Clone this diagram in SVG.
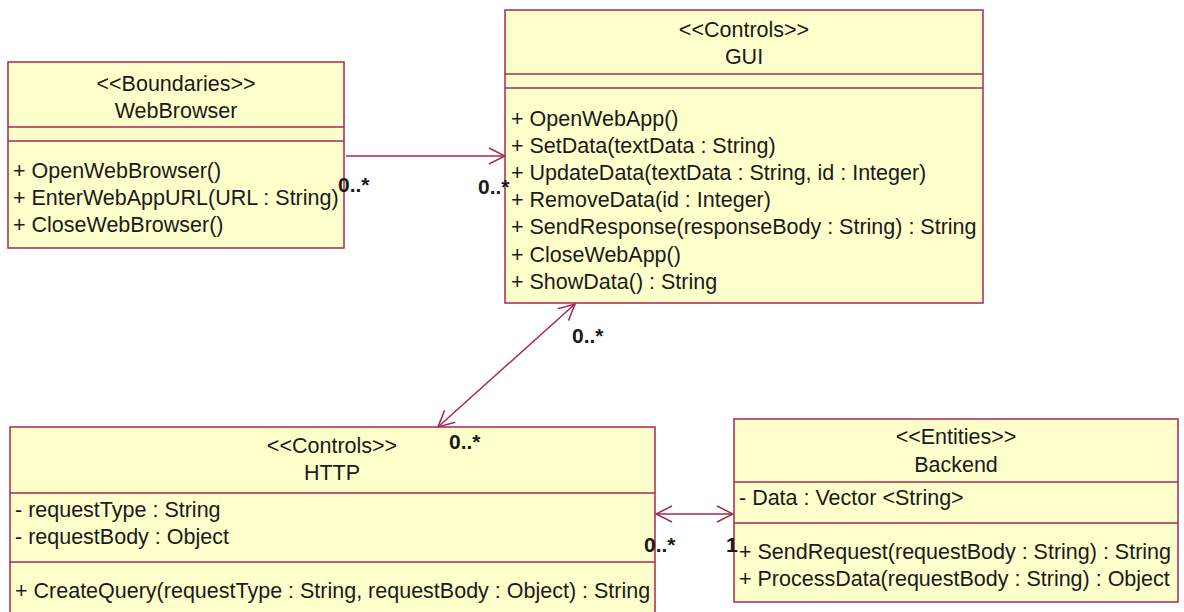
<svg xmlns="http://www.w3.org/2000/svg" width="1184" height="612" viewBox="0 0 1184 612">
  <style>
    .box { fill: #ffffcb; stroke: #a8294f; stroke-width: 1.5; }
    .div { stroke: #a8294f; stroke-width: 1.5; }
    .t { font-family: "Liberation Sans", Arial, sans-serif; font-size: 21.5px; fill: #1a1a1a; }
    .c { text-anchor: middle; }
    .edge { stroke: #a8294f; stroke-width: 1.5; fill: none; }
    .mult { font-family: "Liberation Sans", Arial, sans-serif; font-size: 21px; font-weight: bold; fill: #1a1a1a; }
  </style>
  <defs>
    <marker id="open" viewBox="0 0 18 18" refX="17" refY="9" markerWidth="18" markerHeight="18" markerUnits="userSpaceOnUse" orient="auto-start-reverse">
      <path d="M1,1 L17,9 L1,17" fill="none" stroke="#a8294f" stroke-width="1.5"/>
    </marker>
  </defs>
  <rect width="1184" height="612" fill="#ffffff"/>

  <g id="webbrowser">
    <rect class="box" x="8" y="62" width="336" height="186"/>
    <line class="div" x1="8" y1="127" x2="344" y2="127"/>
    <line class="div" x1="8" y1="141" x2="344" y2="141"/>
    <text class="t c" x="176" y="91">&lt;&lt;Boundaries&gt;&gt;</text>
    <text class="t c" x="176" y="118">WebBrowser</text>
    <text class="t" x="13" y="178">+ OpenWebBrowser()</text>
    <text class="t" x="13" y="205">+ EnterWebAppURL(URL : String)</text>
    <text class="t" x="13" y="232">+ CloseWebBrowser()</text>
  </g>

  <g id="gui">
    <rect class="box" x="505" y="10" width="478" height="293"/>
    <line class="div" x1="505" y1="74" x2="983" y2="74"/>
    <line class="div" x1="505" y1="88" x2="983" y2="88"/>
    <text class="t c" x="744" y="37">&lt;&lt;Controls&gt;&gt;</text>
    <text class="t c" x="744" y="64">GUI</text>
    <text class="t" x="511" y="126">+ OpenWebApp()</text>
    <text class="t" x="511" y="153">+ SetData(textData : String)</text>
    <text class="t" x="511" y="180">+ UpdateData(textData : String, id : Integer)</text>
    <text class="t" x="511" y="207">+ RemoveData(id : Integer)</text>
    <text class="t" x="511" y="234">+ SendResponse(responseBody : String) : String</text>
    <text class="t" x="511" y="262">+ CloseWebApp()</text>
    <text class="t" x="511" y="289">+ ShowData() : String</text>
  </g>

  <g id="http">
    <rect class="box" x="10" y="427" width="645" height="200"/>
    <line class="div" x1="10" y1="493" x2="655" y2="493"/>
    <line class="div" x1="10" y1="562" x2="655" y2="562"/>
    <text class="t c" x="332" y="453">&lt;&lt;Controls&gt;&gt;</text>
    <text class="t c" x="332" y="480">HTTP</text>
    <text class="t" x="15" y="517">- requestType : String</text>
    <text class="t" x="15" y="544">- requestBody : Object</text>
    <text class="t" x="15" y="598">+ CreateQuery(requestType : String, requestBody : Object) : String</text>
  </g>

  <g id="backend">
    <rect class="box" x="734" y="419" width="444" height="183"/>
    <line class="div" x1="734" y1="482" x2="1178" y2="482"/>
    <line class="div" x1="734" y1="523" x2="1178" y2="523"/>
    <text class="t c" x="956" y="444">&lt;&lt;Entities&gt;&gt;</text>
    <text class="t c" x="956" y="472">Backend</text>
    <text class="t" x="739" y="505">- Data : Vector &lt;String&gt;</text>
    <text class="t" x="739" y="559">+ SendRequest(requestBody : String) : String</text>
    <text class="t" x="739" y="586">+ ProcessData(requestBody : String) : Object</text>
  </g>

  <g id="connectors">
    <line class="edge" x1="346" y1="156" x2="505" y2="156" marker-end="url(#open)"/>
    <line class="edge" x1="438" y1="427" x2="575" y2="304" marker-start="url(#open)" marker-end="url(#open)"/>
    <line class="edge" x1="656" y1="514" x2="733" y2="514" marker-start="url(#open)" marker-end="url(#open)"/>
    <text class="mult" x="338" y="192">0..*</text>
    <text class="mult" x="478" y="194">0..*</text>
    <text class="mult" x="572" y="343">0..*</text>
    <text class="mult" x="449" y="449">0..*</text>
    <text class="mult" x="644" y="552">0..*</text>
    <text class="mult" x="726" y="552">1</text>
  </g>
</svg>
